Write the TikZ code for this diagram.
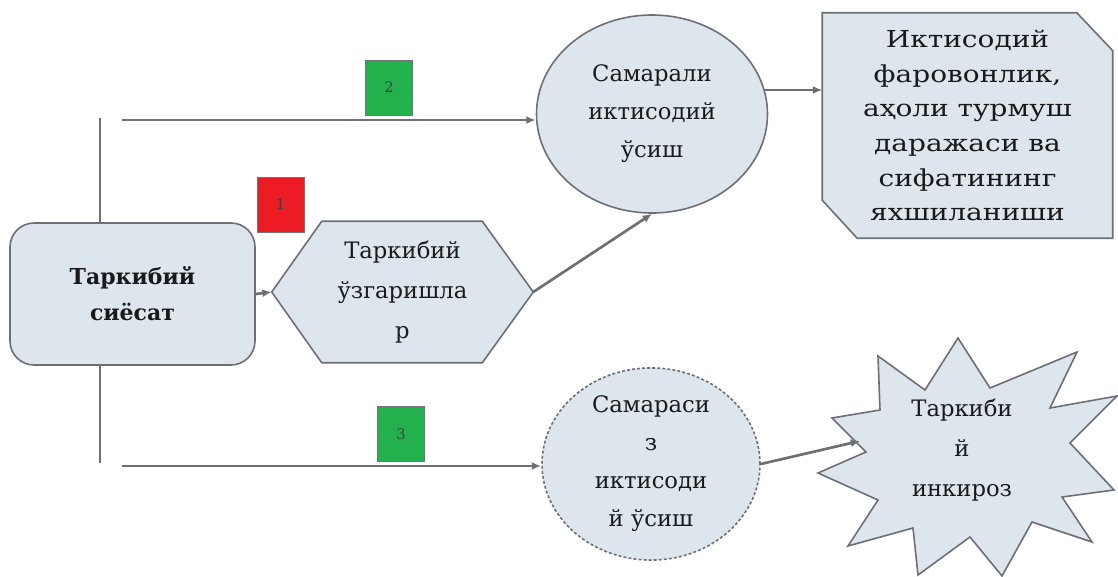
\documentclass[tikz,border=0pt]{standalone}
\usepackage{fontspec}
\setmainfont{DejaVu Serif}
\newfontfamily\tnr{DejaVu Serif}
\newfontfamily\tnrwide[FakeStretch=1.2]{DejaVu Serif}
\usetikzlibrary{shapes.geometric,arrows.meta,calc,backgrounds}
\definecolor{fillc}{RGB}{222,230,237}
\definecolor{linec}{RGB}{110,110,118}
\definecolor{greenc}{RGB}{34,177,76}
\definecolor{redc}{RGB}{237,28,36}
\definecolor{textc}{RGB}{25,25,25}
\begin{document}
\begin{tikzpicture}[x=0.75pt,y=-0.75pt,
  shapetext/.style={align=center, text=textc, font=\tnr\fontsize{17}{28.5}\selectfont, inner sep=0pt},
  shapebox/.style={shapetext, draw=linec, line width=1.2pt, fill=fillc},
  shapeline/.style={draw=linec, line width=1.2pt, fill=fillc},
  conn/.style={draw=linec, line width=2pt},
  arr/.style={conn, -{Latex[length=7pt,width=6pt]}},
  badge/.style={draw=black!55, line width=0.6pt, minimum width=35.25pt, minimum height=41.25pt, inner sep=0pt, font=\tnr\fontsize{11}{11}\selectfont, text=black!75}
]
\useasboundingbox (0,0) rectangle (1118,576);

% main nodes
\node[shapebox, rounded corners=18pt, minimum width=183.75pt, minimum height=106.5pt,
      font=\tnr\fontsize{16.5}{27}\selectfont\bfseries] (box) at (132.5,294) {Таркибий\\сиёсат};
\node[shapebox, ellipse, minimum width=173.25pt, minimum height=148.5pt] (e1) at (652,114)
  {Самарали\\иктисодий\\ўсиш};
\node[shapebox, ellipse, dash pattern=on 2.2pt off 1.6pt, minimum width=163.5pt, minimum height=144pt] (e2) at (651,464)
  {Самараси\\з\\иктисоди\\й ўсиш};
\node[shapetext, minimum width=195.75pt, minimum height=105.75pt, font=\tnr\fontsize{17}{30}\selectfont] (hex) at (402.5,292)
  {Таркибий\\ўзгаришла\\р};
\node[shapetext, minimum width=217.5pt, minimum height=168.75pt, font=\tnrwide\fontsize{17.5}{26}\selectfont] (snip) at (967.5,125.5)
  {Иктисодий\\фаровонлик,\\аҳоли турмуш\\даражаси ва\\сифатининг\\яхшиланиши};
\node[shapetext, font=\tnr\fontsize{17}{30}\selectfont] (star) at (962,450) {Таркиби\\й\\инкироз};

\begin{scope}[on background layer]
  \path[shapeline] (hex.west) -- ($(hex.north west)+(50,0)$) -- ($(hex.north east)+(-51,0)$)
    -- (hex.east) -- ($(hex.south east)+(-51,0)$) -- ($(hex.south west)+(50,0)$) -- cycle;
  \path[shapeline] (snip.north west) -- ($(snip.north east)+(-36,0)$) -- ($(snip.north east)+(0,38)$)
    -- (snip.south east) -- ($(snip.south west)+(35,0)$) -- ($(snip.south west)+(0,-38)$) -- cycle;
  \path[shapeline] (958,338) -- (990,388) -- (1077,352) -- (1050,408) -- (1117,396) -- (1070,443)
    -- (1114,490) -- (1062,497) -- (1092,542) -- (1032,522) -- (1002,576) -- (970,537)
    -- (918,575) -- (913,528) -- (848,546) -- (878,500) -- (818,473) -- (866,452)
    -- (832,418) -- (880,410) -- (878,356) -- (925,390) -- cycle;
\end{scope}

% badges
\node[badge, fill=greenc] (b2) at (389,87.5) {2};
\node[badge, fill=redc] (b1) at (280.5,204.5) {1};
\node[badge, fill=greenc] (b3) at (401,434) {3};

% connectors
\coordinate (vt) at (100,118);
\coordinate (vb) at (100,463);
\coordinate (ht) at (122,120);
\coordinate (hb) at (122,466);
\coordinate (starin) at (860,441);
\draw[conn] (vt) -- (vt |- box.north);
\draw[conn] (vb) -- (vb |- box.south);
\draw[arr] (ht) -- (ht -| e1.west);
\draw[arr] (hb) -- (hb -| e2.west);
\draw[arr] (box.east) -- (hex.west);
\draw[arr] (hex.east) -- (e1.south);
\draw[arr] (e1.12) -- (e1.12 -| snip.west);
\draw[arr] (e2.east) -- (starin);
\end{tikzpicture}
\end{document}
